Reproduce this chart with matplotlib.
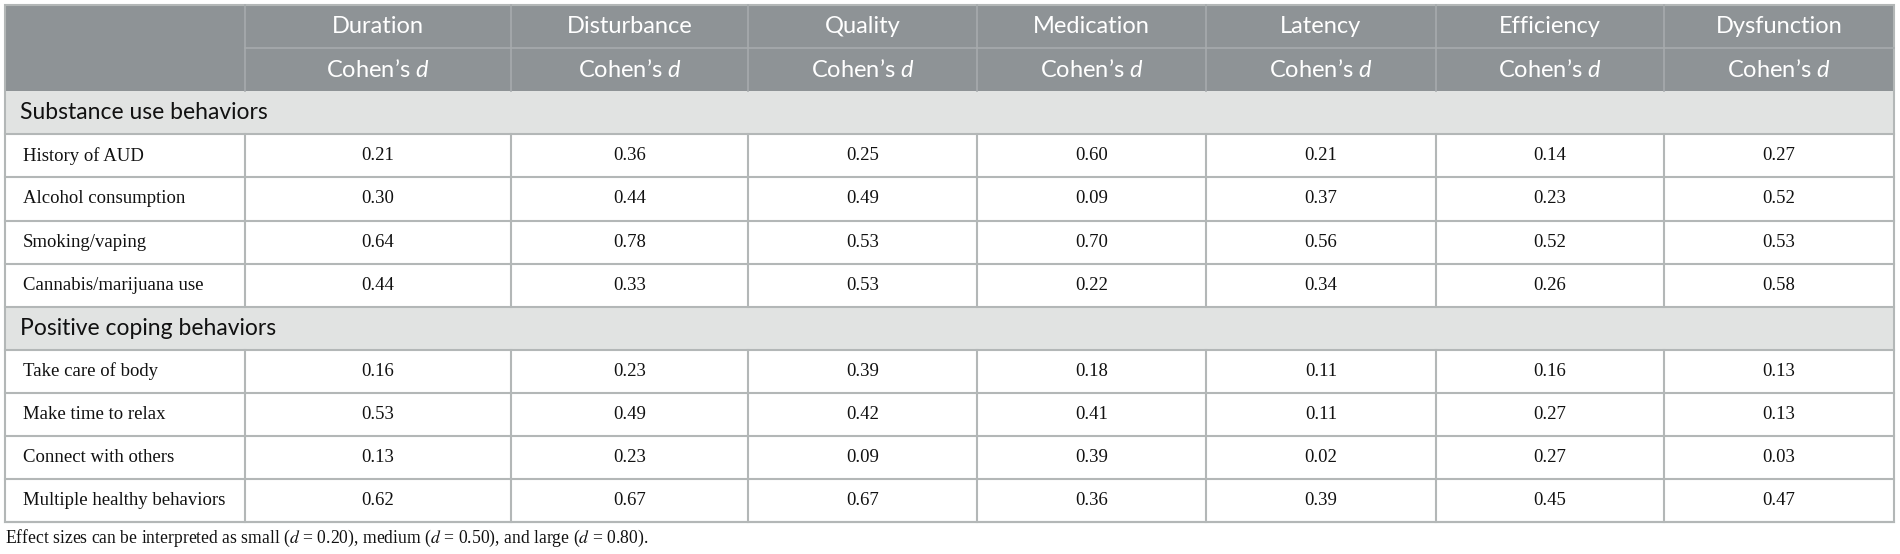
import matplotlib.pyplot as plt
from matplotlib.patches import Rectangle

plt.rcParams['mathtext.fontset'] = 'custom'
plt.rcParams['mathtext.rm'] = 'Lato'
plt.rcParams['mathtext.it'] = 'Lato:italic'

# table content
outcomes = ["Duration", "Disturbance", "Quality", "Medication", "Latency", "Efficiency", "Dysfunction"]
sections = ["Substance use behaviors", "Positive coping behaviors"]
substance_rows = ["History of AUD", "Alcohol consumption", "Smoking/vaping", "Cannabis/marijuana use"]
coping_rows = ["Take care of body", "Make time to relax", "Connect with others", "Multiple healthy behaviors"]

duration = [0.21, 0.30, 0.64, 0.44, 0.16, 0.53, 0.13, 0.62]
disturbance = [0.36, 0.44, 0.78, 0.33, 0.23, 0.49, 0.23, 0.67]
quality = [0.25, 0.49, 0.53, 0.53, 0.39, 0.42, 0.09, 0.67]
medication = [0.60, 0.09, 0.70, 0.22, 0.18, 0.41, 0.39, 0.36]
latency = [0.21, 0.37, 0.56, 0.34, 0.11, 0.11, 0.02, 0.39]
efficiency = [0.14, 0.23, 0.52, 0.26, 0.16, 0.27, 0.27, 0.45]
dysfunction = [0.27, 0.52, 0.53, 0.58, 0.13, 0.13, 0.03, 0.47]

footnote = ("Effect sizes can be interpreted as small ($d$ = 0.20), "
            "medium ($d$ = 0.50), and large ($d$ = 0.80).")

columns = [duration, disturbance, quality, medication, latency, efficiency, dysfunction]

# layout in pixels
col_edges = [5, 245, 511, 748, 977, 1206, 1436, 1664, 1894]
top = 5
row_h = 43.1
header_bg = '#8e9396'
header_line = '#a7abad'
section_bg = '#e1e3e2'
grid = '#b3b7b7'
sans = 'Lato'
serif = 'Liberation Serif'

fig = plt.figure(figsize=(19, 5.54), dpi=100)
ax = fig.add_axes([0, 0, 1, 1])
ax.set_xlim(0, 1900)
ax.set_ylim(554, 0)
ax.axis('off')

left, right = col_edges[0], col_edges[-1]

# header block
ax.add_patch(Rectangle((left, top), right - left, 2 * row_h, facecolor=header_bg, edgecolor='none'))
ax.plot([col_edges[1], right], [top + row_h, top + row_h], color=header_line, lw=1.2)
for xe in col_edges[1:-1]:
    ax.plot([xe, xe], [top, top + 2 * row_h], color=header_line, lw=1.2)
for i, name in enumerate(outcomes):
    cx = (col_edges[i + 1] + col_edges[i + 2]) / 2
    ax.text(cx, top + row_h * 0.5, name, ha='center', va='center', color='white',
            fontsize=17, family=sans)
    ax.text(cx, top + row_h * 1.5, "Cohen’s $\\mathit{d}$", ha='center', va='center',
            color='white', fontsize=17, family=sans, math_fontfamily='custom')

# body
y = top + 2 * row_h
body = [(sections[0], substance_rows, 0), (sections[1], coping_rows, len(substance_rows))]
for title, labels, offset in body:
    ax.add_patch(Rectangle((left, y), right - left, row_h, facecolor=section_bg, edgecolor='none'))
    ax.text(left + 15, y + row_h / 2, title, ha='left', va='center', fontsize=16.5,
            family=sans, color='#111111')
    ax.plot([left, right], [y + row_h, y + row_h], color=grid, lw=1.5)
    y += row_h
    for j, lab in enumerate(labels):
        cy = y + row_h / 2
        ax.text(left + 18, cy, lab, ha='left', va='center', fontsize=13.5,
                family=serif, color='#111111')
        for i, col in enumerate(columns):
            cx = (col_edges[i + 1] + col_edges[i + 2]) / 2
            ax.text(cx, cy, f"{col[offset + j]:.2f}", ha='center', va='center',
                    fontsize=13.5, family=serif, color='#111111')
        for xe in col_edges[1:-1]:
            ax.plot([xe, xe], [y, y + row_h], color=grid, lw=1.5)
        ax.plot([left, right], [y + row_h, y + row_h], color=grid, lw=1.5)
        y += row_h

# outer border
ax.add_patch(Rectangle((left, top), right - left, y - top, facecolor='none',
                       edgecolor=grid, lw=1.5))

ax.text(left, y + 16, footnote, ha='left', va='center', fontsize=12.7, family=serif,
        math_fontfamily='stix', color='#111111')

fig.savefig('out.png', dpi=100)
